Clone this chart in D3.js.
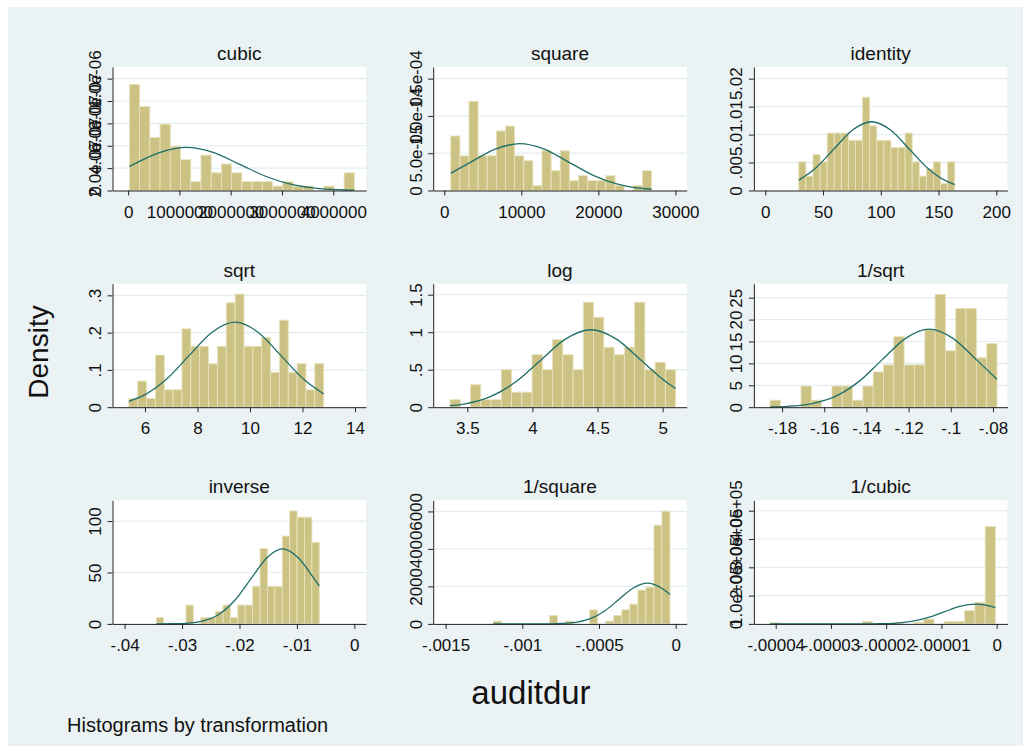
<!DOCTYPE html>
<html><head><meta charset="utf-8">
<script src="https://cdn.jsdelivr.net/npm/d3@7"></script>
<style>
body{margin:0;background:#fff}
svg{display:block}
text{font-family:"Liberation Sans",Arial,Helvetica,sans-serif;fill:#111}
</style>
</head><body>
<svg id="chart" width="1030" height="753"></svg>
<script>
// ---------------- DATA ----------------
const panelNames = ["cubic","square","identity","sqrt","log","1/sqrt","inverse","1/square","1/cubic"];
// data range covered by the 22 histogram bins in each panel
const binLo = [24389, 841, 29, 5.3852, 3.3673, -0.18570, -0.034483, -0.0011891, -4.1002e-5];
const binHi = [4410944, 26896, 164, 12.8062, 5.0999, -0.07809, -0.006098, -0.00003718, -2.267e-7];

// bar densities (22 bins each)
const densCubic = [9.48e-7,7.50e-7,4.74e-7,5.92e-7,3.95e-7,2.76e-7,0.79e-7,3.16e-7,1.58e-7,2.37e-7,1.58e-7,0.79e-7,0.79e-7,0.79e-7,0.39e-7,0.79e-7,0.39e-7,0.39e-7,0,0.39e-7,0,1.58e-7];
const densSquare = [7.31e-5,4.65e-5,11.97e-5,4.65e-5,4.65e-5,7.98e-5,8.64e-5,4.65e-5,3.99e-5,0.66e-5,5.32e-5,2.66e-5,5.32e-5,1.33e-5,1.99e-5,1.33e-5,1.33e-5,1.99e-5,0.66e-5,0,0.66e-5,2.66e-5];
const densIdentity = [.00513,.00257,.00642,.00513,.01027,.01027,.01027,.00898,.00898,.01668,.01155,.00898,.00898,.0077,.0077,.01027,.00513,.00257,.00385,.00513,.00128,.00513];
const densSqrt = [.0233,.0700,.0233,.1400,.0467,.0467,.2101,.1634,.1634,.1167,.1634,.2801,.3034,.1634,.1634,.1867,.0934,.2334,.0934,.1167,.0467,.1167];
const densLog = [.1,0,.3,.1,.1,.5,.2,.2,.7,.5,.9,.7,.5,1.4,1.2,.8,.7,.8,1.4,.5,.6,.5];
const densInvSqrt = [1.61,0,0,4.83,1.61,0,4.83,4.83,1.61,4.83,8.05,9.66,16.1,9.66,9.66,17.71,25.76,12.88,22.54,22.54,11.27,14.49];
const densInverse = [6.1,0,0,0,18.3,0,6.1,6.1,12.2,18.3,6.1,18.3,18.3,36.6,73.2,36.6,36.6,85.4,109.9,103.8,103.8,79.3];
const densInvSquare = [150,0,0,0,0,0,0,451,0,150,0,0,752,0,150,451,752,1053,1805,1955,5264,6016];
const densInvCubic = [4248,0,0,0,0,0,0,0,0,8496,0,0,4248,0,4248,16992,0,8496,8496,46728,76464,344088];

// normal density overlay [x, density]
const curveCubic = [[24389,2.157e-7],[106000,2.341e-7],[623000,3.406e-7],[1140000,3.86e-7],[1657000,3.406e-7],[2174000,2.341e-7],[2691000,1.253e-7],[3208000,5.22e-8],[3725000,1.69e-8],[4242000,4.3e-9],[4410944,2.6e-9]];
const curveSquare = [[841,2.324e-5],[3448,3.809e-5],[6624,5.542e-5],[9800,6.28e-5],[12976,5.542e-5],[16152,3.809e-5],[19328,2.039e-5],[22504,8.50e-6],[25680,2.76e-6],[26896,1.68e-6]];
const curveIdentity = [[29,.001857],[43.4,.003994],[59.6,.00746],[75.8,.010855],[92,.0123],[108.2,.010855],[124.4,.00746],[140.6,.003994],[156.8,.001664],[164,.001042]];
const curveSqrt = [[5.385,.01578],[5.93,.03085],[6.805,.07403],[7.68,.1383],[8.555,.2012],[9.43,.228],[10.305,.2012],[11.18,.1383],[12.055,.07403],[12.806,.03546]];
const curveLog = [[3.3673,.0204],[3.484,.04535],[3.677,.1398],[3.870,.3354],[4.063,.6265],[4.256,.9116],[4.449,1.033],[4.642,.9116],[4.835,.6265],[5.028,.3354],[5.0999,.2494]];
const curveInvSqrt = [[-.1857,.0605],[-.1774,.1976],[-.1662,.7814],[-.155,2.408],[-.1438,5.780],[-.1326,10.80],[-.1214,15.71],[-.1102,17.8],[-.099,15.71],[-.0878,10.80],[-.07809,6.376]];
const curveInverse = [[-.034483,.022],[-.03161,.16],[-.02888,.81],[-.02615,3.20],[-.02342,9.88],[-.02069,23.70],[-.01796,44.27],[-.01523,64.42],[-.0125,73],[-.00977,64.42],[-.00704,44.27],[-.006098,36.71]];
const curveInvSquare = [[-.0011891,0],[-.0010112,.087],[-.0009194,.728],[-.0008276,4.76],[-.0007358,24.1],[-.000644,95.4],[-.0005522,294],[-.0004604,705.6],[-.0003686,1318],[-.0002768,1918],[-.000185,2173],[-.0000932,1918],[-.00003718,1571]];
const curveInvCubic = [[-4.1002e-5,0],[-2.945e-5,2.8],[-2.66e-5,23.5],[-2.375e-5,153],[-2.09e-5,777],[-1.805e-5,3073],[-1.52e-5,9471],[-1.235e-5,22729],[-9.5e-6,42455],[-6.65e-6,61775],[-3.8e-6,70000],[-9.5e-7,61775],[-2.267e-7,57505]];

// axis extents
const xDomains = [[-305000,4638000],[-1435,31462],[-9.88,209.6],[4.762,14.419],[3.238,5.185],[-.19335,-.07316],[-.04211,.00203],[-.001581,.0000719],[-4.395e-5,1.945e-6]];
const yMaxes = [1.104e-6,1.656e-4,.02209,.3312,1.647,28.19,120.1,6588,4.365e5];

// tick values and labels
const xTickVals = [[0,1e6,2e6,3e6,4e6],[0,10000,20000,30000],[0,50,100,150,200],[6,8,10,12,14],[3.5,4,4.5,5],[-.18,-.16,-.14,-.12,-.1,-.08],[-.04,-.03,-.02,-.01,0],[-.0015,-.001,-.0005,0],[-.00004,-.00003,-.00002,-.00001,0]];
const xTickLabels = [["0","1000000","2000000","3000000","4000000"],["0","10000","20000","30000"],["0","50","100","150","200"],["6","8","10","12","14"],["3.5","4","4.5","5"],["-.18","-.16","-.14","-.12","-.1","-.08"],["-.04","-.03","-.02","-.01","0"],["-.0015","-.001","-.0005","0"],["-.00004","-.00003","-.00002","-.00001","0"]];
const yTickVals = [[0,2e-7,4e-7,6e-7,8e-7,1e-6],[0,5e-5,1e-4,1.5e-4],[0,.005,.01,.015,.02],[0,.1,.2,.3],[0,.5,1,1.5],[0,5,10,15,20,25],[0,50,100],[0,2000,4000,6000],[0,1e5,2e5,3e5,4e5]];
const yTickLabels = [["0","2.0e-07","4.0e-07","6.0e-07","8.0e-07","1.0e-06"],["0","5.0e-05","1.0e-04","1.5e-04"],["0",".005",".01",".015",".02"],["0",".1",".2",".3"],["0",".5","1","1.5"],["0","5","10","15","20","25"],["0","50","100"],["0","2000","4000","6000"],["0","1.0e+05","2.0e+05","3.0e+05","4.0e+05"]];

const densities = [densCubic,densSquare,densIdentity,densSqrt,densLog,densInvSqrt,densInverse,densInvSquare,densInvCubic];
const curves = [curveCubic,curveSquare,curveIdentity,curveSqrt,curveLog,curveInvSqrt,curveInverse,curveInvSquare,curveInvCubic];

// ---------------- LAYOUT ----------------
const svg = d3.select("#chart");
const BG = "#eaf2f3";
svg.append("rect").attr("x",0).attr("y",0).attr("width",1030).attr("height",753).attr("fill","#fff");
svg.append("rect").attr("x",8).attr("y",7).attr("width",1015).attr("height",739).attr("fill",BG);

const colLeft = c => 112.5 + 320.7*c;
const rowTop = r => 67 + 216.7*r;
const PW = 253.5, PH = 123.5;
const TICK_FONT = "17px";

panelNames.forEach((name, i) => {
  const c = i % 3, r = Math.floor(i/3);
  const g = svg.append("g").attr("transform", `translate(${colLeft(c)},${rowTop(r)})`);
  const x = d3.scaleLinear().domain(xDomains[i]).range([0, PW]);
  const y = d3.scaleLinear().domain([0, yMaxes[i]]).range([PH, 0]);

  g.append("rect").attr("width", PW).attr("height", PH).attr("fill", "#fff");

  // grid
  g.selectAll("line.grid").data(yTickVals[i].filter(v => v !== 0)).join("line")
    .attr("class","grid")
    .attr("x1",0).attr("x2",PW)
    .attr("y1",d=>y(d)).attr("y2",d=>y(d))
    .attr("stroke","#e3edef").attr("stroke-width",1.2);

  // bars
  const dens = densities[i];
  const w = (binHi[i]-binLo[i]) / dens.length;
  g.selectAll("rect.bar").data(dens).join("rect")
    .attr("class","bar")
    .attr("x", (d,k) => x(binLo[i] + k*w))
    .attr("width", (d,k) => x(binLo[i] + (k+1)*w) - x(binLo[i] + k*w))
    .attr("y", d => y(d))
    .attr("height", d => PH - y(d))
    .attr("fill", "#cbc284")
    .attr("stroke", "#e8e3bd")
    .attr("stroke-width", 0.9)
    .attr("visibility", d => d > 0 ? "visible" : "hidden");

  // normal curve
  const line = d3.line().x(d => x(d[0])).y(d => y(d[1])).curve(d3.curveMonotoneX);
  g.append("path").datum(curves[i]).attr("d", line)
    .attr("fill","none").attr("stroke","#1f6e68").attr("stroke-width",1.3);

  // axes
  const xa = d3.axisBottom(x).tickValues(xTickVals[i])
    .tickFormat((d,k) => xTickLabels[i][k]).tickSize(5).tickSizeOuter(0);
  const gx = g.append("g").attr("transform", `translate(0,${PH})`).call(xa);
  gx.select(".domain").attr("stroke","#222");
  gx.selectAll(".tick line").attr("stroke","#222");
  gx.selectAll(".tick text").attr("y", 27).attr("dy", 0)
    .style("font-size",TICK_FONT).style("font-family",'"Liberation Sans",Arial,sans-serif').attr("fill","#111");

  const ya = d3.axisLeft(y).tickValues(yTickVals[i])
    .tickFormat((d,k) => yTickLabels[i][k]).tickSize(5).tickSizeOuter(0);
  const gy = g.append("g").call(ya);
  gy.select(".domain").attr("stroke","#222");
  gy.selectAll(".tick line").attr("stroke","#222");
  gy.selectAll(".tick text")
    .attr("transform","rotate(-90)").attr("x",0).attr("y",-11.6).attr("dy",0)
    .attr("text-anchor","middle")
    .style("font-size",TICK_FONT).style("font-family",'"Liberation Sans",Arial,sans-serif').attr("fill","#111");

  // title
  g.append("text").attr("x", PW/2).attr("y", -7).attr("text-anchor","middle")
    .style("font-size","19px").text(name);
});

// overall labels
svg.append("text").attr("transform","translate(48,352) rotate(-90)").attr("text-anchor","middle")
  .style("font-size","28px").text("Density");
svg.append("text").attr("x",531).attr("y",704).attr("text-anchor","middle")
  .style("font-size","33px").text("auditdur");
svg.append("text").attr("x",67).attr("y",732)
  .style("font-size","20px").text("Histograms by transformation");
</script>
</body></html>
